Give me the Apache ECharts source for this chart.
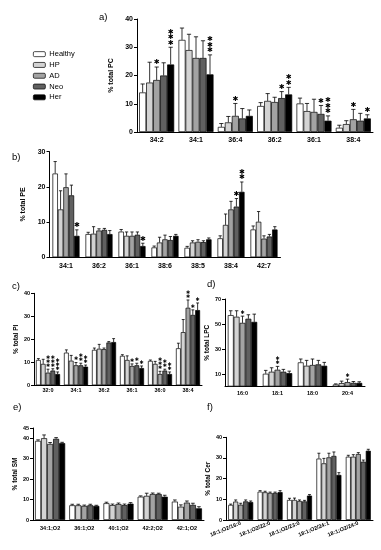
<!DOCTYPE html>
<html><head><meta charset="utf-8">
<script src="https://cdn.jsdelivr.net/npm/echarts@6/dist/echarts.min.js"></script>
<style>html,body{margin:0;padding:0;background:#fff}#c{width:381px;height:550px}</style>
</head><body><div id="c"></div>
<script>
// ---------- DATA ----------
const groups = ['Healthy', 'HP', 'AD', 'Neo', 'Her'];

// a) PC
const pcCats = ['34:2', '34:1', '36:4', '36:2', '36:1', '38:4'];
const pcMean = [
  [14.0, 32.6, 1.8, 9.2, 10.1, 1.5],
  [17.5, 29.0, 3.4, 11.0, 7.4, 2.8],
  [18.4, 26.2, 5.7, 10.6, 7.1, 4.5],
  [20.0, 26.2, 4.8, 12.0, 6.4, 4.0],
  [23.9, 20.4, 5.7, 13.3, 4.0, 4.8]
];
const pcErr = [
  [3.0, 4.2, 1.2, 1.2, 1.9, 0.9],
  [7.2, 5.6, 2.1, 2.6, 2.7, 1.2],
  [4.6, 7.5, 4.4, 1.7, 4.5, 3.5],
  [4.5, 6.1, 3.5, 2.3, 3.0, 2.6],
  [6.1, 6.9, 2.1, 2.5, 1.7, 1.3]
];
const pcStars = [
  [0, 0, 0, 0, 0, 0],
  [0, 0, 0, 0, 0, 0],
  [1, 0, 1, 0, 0, 1],
  [0, 0, 0, 1, 1, 0],
  [3, 3, 0, 2, 3, 1]
];

// b) PE
const peCats = ['34:1', '36:2', '36:1', '38:6', '38:5', '38:4', '42:7'];
const peMean = [
  [23.8, 6.6, 7.3, 2.8, 2.7, 5.4, 7.9],
  [13.6, 6.7, 6.1, 4.2, 4.2, 9.2, 10.1],
  [19.9, 7.6, 6.1, 5.1, 4.4, 13.6, 5.3],
  [17.6, 7.8, 6.4, 4.9, 4.3, 14.4, 5.9],
  [6.1, 6.6, 3.2, 6.1, 5.1, 18.6, 7.9]
];
const peErr = [
  [3.4, 0.5, 0.6, 0.4, 0.4, 0.7, 1.0],
  [5.3, 2.0, 1.1, 1.5, 0.5, 3.1, 2.9],
  [3.8, 0.5, 1.1, 1.2, 0.6, 2.3, 0.8],
  [2.9, 0.4, 0.8, 1.0, 0.4, 2.3, 0.6],
  [1.7, 1.0, 0.8, 0.4, 0.4, 2.8, 0.8]
];
const peStars = [
  [0, 0, 0, 0, 0, 0, 0],
  [0, 0, 0, 0, 0, 0, 0],
  [0, 0, 0, 0, 0, 0, 0],
  [0, 0, 0, 0, 0, 1, 0],
  [1, 0, 1, 0, 0, 2, 0]
];

// c) PI
const piCats = ['32:0', '34:1', '36:2', '36:1', '36:0', '38:4'];
const piMean = [
  [11.0, 14.2, 15.4, 12.8, 10.6, 16.1],
  [9.3, 10.7, 15.9, 11.0, 9.3, 23.1],
  [5.5, 8.7, 15.7, 8.4, 4.9, 33.7],
  [6.4, 8.7, 18.6, 8.7, 6.4, 30.6],
  [4.9, 8.1, 18.8, 7.5, 4.9, 32.7]
];
const piErr = [
  [0.6, 1.2, 0.8, 0.5, 0.4, 2.2],
  [2.0, 2.3, 1.9, 1.8, 1.1, 5.5],
  [1.5, 1.2, 0.5, 0.9, 1.2, 3.4],
  [0.8, 0.9, 0.4, 0.9, 0.6, 2.2],
  [0.9, 0.7, 1.5, 0.9, 0.9, 3.1]
];
const piStars = [
  [0, 0, 0, 0, 0, 0],
  [0, 0, 0, 0, 0, 0],
  [3, 1, 0, 1, 3, 2],
  [3, 2, 0, 1, 2, 1],
  [3, 2, 0, 1, 2, 1]
];

// d) LPC
const lpcCats = ['16:0', '18:1', '18:0', '20:4'];
const lpcMean = [
  [57.1, 10.2, 19.3, 1.6],
  [55.8, 11.8, 16.6, 2.7],
  [50.9, 13.4, 17.2, 3.5],
  [54.2, 11.8, 17.7, 2.9],
  [51.7, 10.7, 16.6, 2.9]
];
const lpcErr = [
  [3.5, 2.7, 2.7, 0.5],
  [4.8, 3.2, 4.3, 1.6],
  [5.4, 2.7, 4.8, 2.4],
  [3.2, 1.9, 3.2, 1.1],
  [6.2, 1.6, 2.7, 0.9]
];
const lpcStars = [
  [0, 0, 0, 0],
  [0, 0, 0, 0],
  [1, 2, 0, 1],
  [0, 0, 0, 0],
  [0, 0, 0, 0]
];
const lpcTicks = [10, 30, 50, 70];

// e) SM
const smCats = ['34:1;O2', '36:1;O2', '40:1;O2', '42:2;O2', '42:1;O2'];
const smMean = [
  [38.7, 7.2, 8.2, 11.4, 9.0],
  [40.0, 7.2, 7.3, 11.8, 6.5],
  [37.2, 6.9, 7.8, 12.7, 8.5],
  [39.7, 7.2, 7.3, 12.7, 7.4],
  [37.6, 6.9, 8.0, 11.4, 5.7]
];
const smErr = [
  [0.5, 0.5, 0.5, 0.4, 0.8],
  [1.6, 0.5, 0.5, 1.3, 0.9],
  [0.7, 0.4, 0.5, 0.5, 0.8],
  [0.6, 0.5, 0.5, 0.4, 0.8],
  [0.4, 0.3, 0.5, 0.7, 0.8]
];
const smTicks = [0, 10, 20, 30, 40, 45];

// f) Cer
const cerCats = ['18:1;O2/16:0', '18:1;O2/22:0', '18:1;O2/23:0', '18:1;O2/24:1', '18:1;O2/24:0'];
const cerMean = [
  [7.3, 13.7, 9.7, 29.7, 30.6],
  [8.9, 13.4, 9.7, 27.4, 30.6],
  [7.4, 13.1, 9.2, 30.3, 31.9],
  [9.0, 13.1, 9.0, 31.0, 28.2],
  [8.7, 13.5, 11.8, 21.8, 33.5]
];
const cerErr = [
  [0.4, 0.5, 0.8, 2.6, 0.7],
  [0.8, 0.5, 0.9, 2.4, 1.0],
  [0.7, 0.4, 0.5, 2.0, 0.7],
  [0.7, 0.4, 0.5, 1.9, 0.8],
  [0.5, 0.7, 0.5, 1.1, 0.7]
];

// ---------- STYLE / LAYOUT ----------
const fills = ['#ffffff', '#d3d3d3', '#a3a3a3', '#606060', '#000000'];
const FONT = 'Liberation Sans, Arial, sans-serif';

const panels = [
  {label: 'a)', lx: 99, ly: 12, cats: pcCats, mean: pcMean, err: pcErr, stars: pcStars, title: '% total PC',
   grid: {left: 137, top: 19, width: 236, height: 113}, max: 40, interval: 10, gap: 0.11,
   fs: 7, tfs: 7, nameGap: 15, starSize: 7, starOff: 4.5, starStep: 5.5, lblMargin: 5},
  {label: 'b)', lx: 12, ly: 152, cats: peCats, mean: peMean, err: peErr, stars: peStars, title: '% total PE',
   grid: {left: 49.5, top: 151.7, width: 231, height: 105.6}, max: 30, interval: 10, gap: 0.18,
   fs: 7, tfs: 7, nameGap: 9, starSize: 7, starOff: 4.5, starStep: 5.5, lblMargin: 5},
  {label: 'c)', lx: 12, ly: 281, cats: piCats, mean: piMean, err: piErr, stars: piStars, title: '% total PI',
   grid: {left: 34, top: 293.3, width: 168, height: 92}, max: 40, interval: 10, gap: 0.14,
   fs: 5.5, tfs: 6.5, nameGap: 13, starSize: 5, starOff: 3.5, starStep: 4, lblMargin: 2.5},
  {label: 'd)', lx: 207, ly: 279, cats: lpcCats, mean: lpcMean, err: lpcErr, stars: lpcStars, title: '% total LPC',
   grid: {left: 225, top: 299, width: 140, height: 87.5}, max: 70, custom: lpcTicks, gap: 0.16,
   fs: 5.5, tfs: 6.5, nameGap: 11, starSize: 5, starOff: 3.5, starStep: 4, lblMargin: 3.5},
  {label: 'e)', lx: 13, ly: 402, cats: smCats, mean: smMean, err: smErr, stars: null, title: '% total SM',
   grid: {left: 33, top: 428, width: 171, height: 92}, max: 45, custom: smTicks, gap: 0.12,
   fs: 5.5, tfs: 6.5, nameGap: 13, starSize: 5, starOff: 3.5, starStep: 4, lblMargin: 5},
  {label: 'f)', lx: 207, ly: 402, cats: cerCats, mean: cerMean, err: cerErr, stars: null, title: '% total Cer',
   grid: {left: 226, top: 437.3, width: 147, height: 82.7}, max: 40, interval: 10, gap: 0.15,
   fs: 5.5, tfs: 6.5, nameGap: 9.5, starSize: 5, starOff: 3.5, starStep: 4, lblMargin: 3, rotate: 22}
];

const grids = [], xAxes = [], yAxes = [], series = [], graphics = [];

panels.forEach((p, pi) => {
  grids.push(Object.assign({containLabel: false}, p.grid));
  xAxes.push({
    type: 'category', gridIndex: pi, data: p.cats,
    axisLine: {lineStyle: {color: '#000', width: 1}},
    axisTick: {show: false},
    axisLabel: {color: '#000', fontSize: p.fs, fontWeight: 'bold', fontFamily: FONT, margin: p.lblMargin,
                interval: 0, rotate: p.rotate || 0}
  });
  const y = {
    type: 'value', gridIndex: pi, min: 0, max: p.max,
    splitLine: {show: false},
    axisLine: {show: true, lineStyle: {color: '#000', width: 1}},
    axisTick: {show: true, length: 3, lineStyle: {color: '#000'}},
    axisLabel: {color: '#000', fontSize: p.fs, fontWeight: 'bold', fontFamily: FONT, margin: 4},
    name: p.title, nameLocation: 'middle', nameRotate: 90, nameGap: p.nameGap,
    nameTextStyle: {color: '#000', fontSize: p.tfs, fontWeight: 'bold', fontFamily: FONT}
  };
  if (p.custom) {
    y.axisLabel.customValues = p.custom;
    y.axisTick.customValues = p.custom;
  } else {
    y.interval = p.interval;
  }
  yAxes.push(y);

  groups.forEach((g, gi) => {
    series.push({
      type: 'bar', name: g, xAxisIndex: pi, yAxisIndex: pi,
      data: p.mean[gi], barGap: '0%', barCategoryGap: (p.gap * 100) + '%',
      itemStyle: {color: fills[gi], borderColor: '#000', borderWidth: 0.7},
      emphasis: {disabled: true}, silent: true, animation: false
    });
  });

  const errData = [];
  groups.forEach((g, gi) => {
    p.cats.forEach((c, ci) => {
      errData.push([ci, p.mean[gi][ci], p.err[gi][ci], p.stars ? p.stars[gi][ci] : 0, gi]);
    });
  });
  series.push({
    type: 'custom', xAxisIndex: pi, yAxisIndex: pi, z: 5, silent: true, animation: false,
    data: errData, encode: {x: 0, y: 1},
    renderItem: (params, api) => {
      const ci = api.value(0), m = api.value(1), e = api.value(2), ns = api.value(3), si = api.value(4);
      const band = api.size([1, 0])[0];
      const bw = band * (1 - p.gap) / 5;
      const cx = api.coord([ci, 0])[0] + (si - 2) * bw;
      const y0 = api.coord([ci, m])[1], y1 = api.coord([ci, m + e])[1];
      const st = {stroke: '#000', lineWidth: 0.8};
      const ch = [
        {type: 'line', shape: {x1: cx, y1: y0, x2: cx, y2: y1}, style: st},
        {type: 'line', shape: {x1: cx - bw * 0.3, y1: y1, x2: cx + bw * 0.3, y2: y1}, style: st}
      ];
      for (let k = 0; k < ns; k++) {
        ch.push({type: 'text', x: cx, y: y1 - p.starOff - k * p.starStep,
          style: {text: '\u2731', fontSize: p.starSize, fill: '#000', align: 'center',
                  verticalAlign: 'middle', fontFamily: 'DejaVu Sans'}});
      }
      return {type: 'group', children: ch};
    }
  });

  graphics.push({type: 'text', left: p.lx, top: p.ly,
    style: {text: p.label, fontSize: 9.5, fill: '#000', fontFamily: FONT}});
});

const chart = echarts.init(document.getElementById('c'), null, {renderer: 'canvas'});
chart.setOption({
  animation: false,
  backgroundColor: '#fff',
  grid: grids, xAxis: xAxes, yAxis: yAxes, series: series,
  graphic: graphics,
  legend: {
    data: groups, orient: 'vertical', left: 28, top: 45,
    itemWidth: 12, itemHeight: 5, itemGap: 2.5,
    selectedMode: false,
    textStyle: {color: '#000', fontSize: 7.5, fontFamily: FONT, lineHeight: 8.3, padding: [0, 0, 0, -1]},
    itemStyle: {borderColor: '#000', borderWidth: 0.7}
  }
});
</script></body></html>
